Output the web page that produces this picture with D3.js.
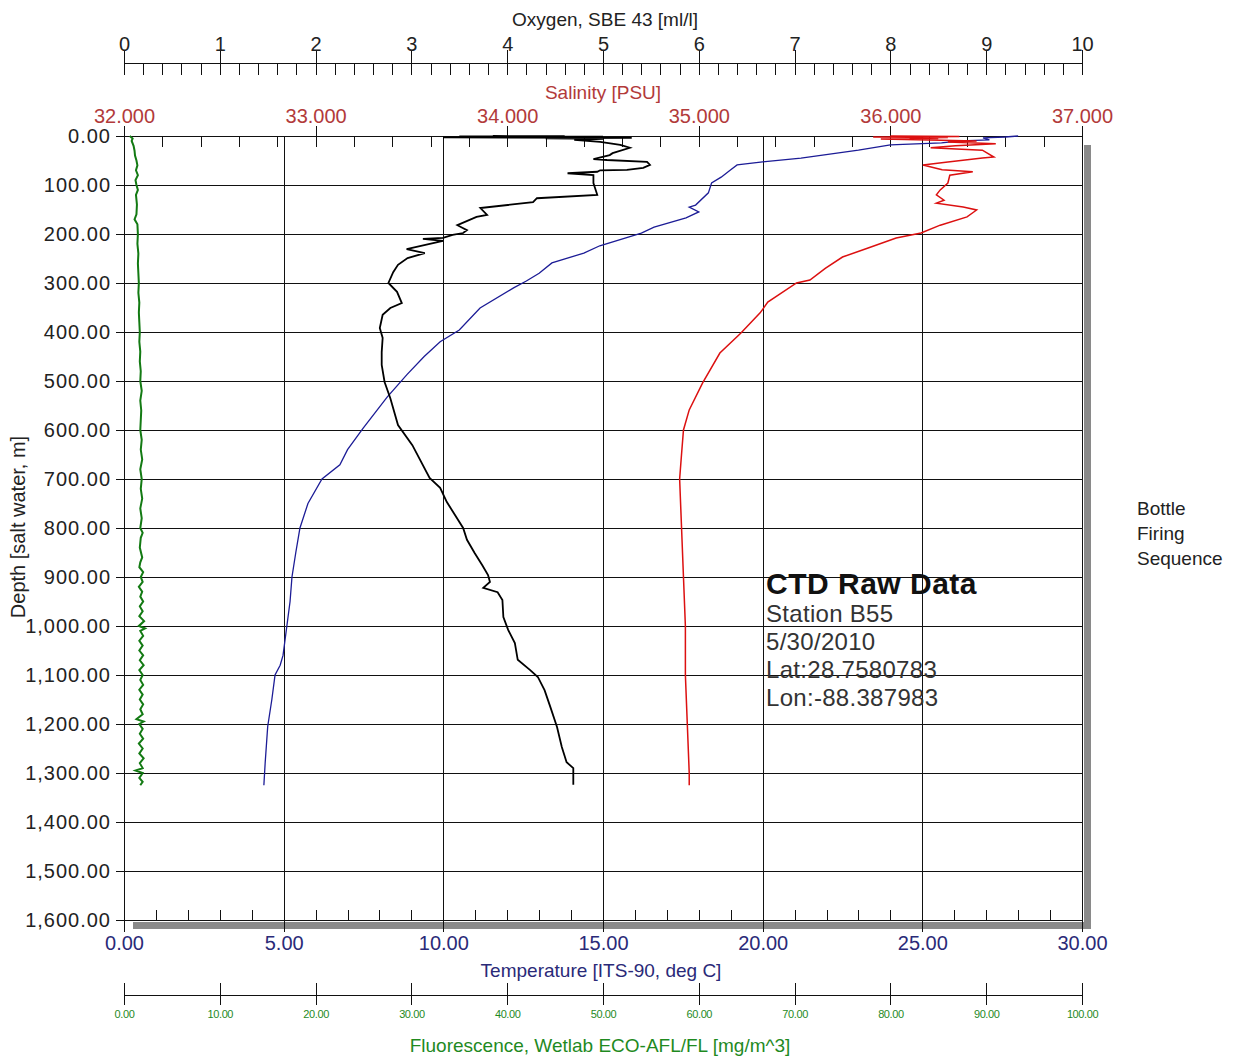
<!DOCTYPE html>
<html>
<head>
<meta charset="utf-8">
<script src="https://cdn.jsdelivr.net/npm/d3@7"></script>
<style>
  body { margin: 0; background: #fff; }
  svg text { font-family: "Liberation Sans", Arial, sans-serif; }
  .axis path, .axis line { stroke: #111; shape-rendering: crispEdges; }
  .grid line { stroke: #111; shape-rendering: crispEdges; }
  .grid path { display: none; }
</style>
</head>
<body>
<div class="chart"></div>
<script>
// CTD raw data profile: [depth m, value]

let temperatureProfile = [
  [0, 28.0], [2, 27.6], [4, 26.9], [8, 27.1], [10, 26.2], [14, 25.6], [18, 24.0],
  [29, 23.0], [45, 21.2], [53, 20.0], [59, 19.2], [69, 19.0], [84, 18.7], [96, 18.4],
  [116, 18.3], [141, 17.9], [145, 17.7], [155, 18.0], [167, 17.6], [186, 16.6],
  [198, 16.2], [224, 14.9], [239, 14.4], [259, 13.4], [280, 13.0], [296, 12.6],
  [310, 12.2], [351, 11.15], [396, 10.5], [420, 9.9], [450, 9.4], [487, 8.86],
  [533, 8.24], [596, 7.49], [640, 7.0], [671, 6.76], [700, 6.2], [750, 5.76],
  [800, 5.51], [850, 5.38], [900, 5.26], [950, 5.2], [1000, 5.1], [1060, 4.98],
  [1080, 4.89], [1100, 4.73], [1150, 4.63], [1205, 4.5], [1280, 4.42], [1325, 4.38]
];

let salinityProfile = [
  [0, 36.0], [1, 36.36], [2, 35.91], [3, 36.3], [4, 36.1], [5, 36.25], [6, 35.95],
  [8, 36.2], [10, 36.45], [12, 36.3], [16, 36.55], [20, 36.34], [24, 36.21],
  [29, 36.48], [43, 36.54], [45, 36.48], [53, 36.3], [59, 36.17], [69, 36.27],
  [73, 36.43], [80, 36.31], [96, 36.3], [110, 36.26], [120, 36.24], [131, 36.28],
  [137, 36.24], [145, 36.38], [151, 36.45], [165, 36.4], [182, 36.26], [198, 36.16],
  [208, 36.03], [229, 35.88], [247, 35.75], [270, 35.66], [294, 35.58], [300, 35.51],
  [339, 35.36], [361, 35.32], [402, 35.22], [443, 35.11], [504, 35.02], [559, 34.95],
  [600, 34.92], [649, 34.91], [700, 34.9], [800, 34.91], [900, 34.92], [1000, 34.93],
  [1100, 34.93], [1200, 34.94], [1300, 34.95], [1325, 34.95]
];

let oxygenProfile = [
  [0, 3.85], [0.5, 4.6], [1, 3.5], [1.5, 5.0], [2, 4.0], [3, 3.33], [4, 5.3],
  [5, 4.4], [6, 5.0], [8, 4.7], [12, 4.97], [18, 5.18], [24, 5.28], [35, 5.1],
  [39, 5.07], [47, 4.9], [49, 5.04], [53, 5.46], [59, 5.49], [65, 5.42], [69, 5.25],
  [70, 4.97], [73, 4.94], [76, 4.63], [80, 4.9], [96, 4.9], [120, 4.94], [127, 4.31],
  [135, 4.27], [147, 3.72], [161, 3.79], [165, 3.68], [182, 3.48], [192, 3.58],
  [198, 3.54], [202, 3.43], [208, 3.33], [210, 3.12], [214, 3.33], [231, 2.95],
  [239, 3.14], [249, 2.96], [263, 2.86], [278, 2.81], [300, 2.76], [318, 2.85],
  [341, 2.9], [351, 2.78], [365, 2.7], [392, 2.67], [412, 2.7], [441, 2.69],
  [467, 2.69], [502, 2.72], [535, 2.78], [590, 2.86], [631, 3.01], [698, 3.19],
  [718, 3.3], [747, 3.37], [800, 3.54], [824, 3.58], [851, 3.66], [876, 3.74],
  [896, 3.8], [910, 3.82], [922, 3.75], [931, 3.9], [947, 3.95], [982, 3.96],
  [1008, 4.01], [1035, 4.08], [1069, 4.11], [1090, 4.24], [1104, 4.32], [1131, 4.39],
  [1165, 4.45], [1206, 4.52], [1247, 4.57], [1278, 4.62], [1290, 4.69], [1324, 4.69]
];

let fluorescenceProfile = [
  [0, 0.6], [5, 0.9], [10, 0.8], [20, 1.0], [30, 1.1], [40, 1.15], [50, 1.3], [60, 1.4],
  [70, 1.25], [80, 1.45], [90, 1.2], [100, 1.3], [110, 1.45], [120, 1.25], [140, 1.35],
  [160, 1.3], [170, 1.1], [180, 1.4], [200, 1.45], [220, 1.4], [240, 1.5], [260, 1.45],
  [280, 1.5], [300, 1.55], [320, 1.5], [340, 1.6], [360, 1.55], [380, 1.6], [400, 1.65],
  [420, 1.6], [440, 1.7], [460, 1.65], [480, 1.75], [500, 1.7], [520, 1.85], [540, 1.7],
  [560, 1.8], [580, 1.75], [600, 1.7], [620, 1.85], [640, 1.75], [660, 1.9], [680, 1.7],
  [700, 1.85], [720, 1.75], [740, 1.9], [760, 1.7], [780, 1.85], [800, 1.7], [810, 1.95],
  [820, 1.75], [840, 1.65], [860, 1.9], [870, 1.7], [880, 1.6], [890, 2.0], [900, 1.75],
  [910, 1.95], [920, 1.55], [930, 1.9], [940, 1.7], [950, 2.0], [960, 1.65], [970, 1.95],
  [980, 1.6], [990, 2.1], [1000, 1.55], [1005, 2.2], [1010, 1.7], [1020, 2.0], [1030, 1.6],
  [1040, 1.95], [1050, 1.6], [1060, 2.0], [1070, 1.65], [1080, 2.05], [1090, 1.6],
  [1100, 1.95], [1110, 1.7], [1120, 2.0], [1130, 1.6], [1140, 1.95], [1150, 1.65],
  [1160, 2.0], [1170, 1.7], [1180, 1.95], [1190, 1.3], [1195, 2.05], [1200, 1.6],
  [1210, 1.95], [1220, 1.65], [1230, 2.0], [1240, 1.55], [1250, 1.95], [1260, 1.6],
  [1270, 2.05], [1280, 1.65], [1290, 1.95], [1295, 1.2], [1300, 1.95], [1310, 1.6],
  [1318, 1.95], [1325, 1.7]
];

let infoLines = ["Station B55", "5/30/2010", "Lat:28.7580783", "Lon:-88.387983"];
let sideLabel = ["Bottle", "Firing", "Sequence"];

let svgWidth = 1239;
let svgHeight = 1058;
let plot = { left: 124, right: 1082, top: 136, bottom: 920 };
let plotW = plot.right - plot.left;
let plotH = plot.bottom - plot.top;

let svg = d3.select(".chart")
  .append("svg")
  .attr("width", svgWidth)
  .attr("height", svgHeight);

// scales
let yScale = d3.scaleLinear().domain([0, 1600]).range([plot.top, plot.bottom]);
let tempScale = d3.scaleLinear().domain([0, 30]).range([plot.left, plot.right]);
let salScale = d3.scaleLinear().domain([32, 37]).range([plot.left, plot.right]);
let oxyScale = d3.scaleLinear().domain([0, 10]).range([plot.left, plot.right]);
let fluScale = d3.scaleLinear().domain([0, 100]).range([plot.left, plot.right]);

// drop shadow of the plot box
svg.append("rect")
  .attr("x", plot.right + 2).attr("y", plot.top + 9)
  .attr("width", 7).attr("height", plotH)
  .attr("fill", "#8a8a8a");
svg.append("rect")
  .attr("x", plot.left + 9).attr("y", plot.bottom + 2)
  .attr("width", plotW).attr("height", 7)
  .attr("fill", "#8a8a8a");
svg.append("rect")
  .attr("x", plot.left).attr("y", plot.top)
  .attr("width", plotW).attr("height", plotH)
  .attr("fill", "#fff");

// grid
svg.append("g").attr("class", "grid")
  .attr("transform", `translate(${plot.left},0)`)
  .call(d3.axisLeft(yScale).tickValues(d3.range(100, 1600, 100)).tickSize(-plotW).tickFormat(""));
svg.append("g").attr("class", "grid")
  .attr("transform", `translate(0,${plot.bottom})`)
  .call(d3.axisBottom(tempScale).tickValues([5, 10, 15, 20, 25]).tickSize(-plotH).tickFormat(""));

svg.append("rect")
  .attr("x", plot.left).attr("y", plot.top)
  .attr("width", plotW).attr("height", plotH)
  .attr("fill", "none").attr("stroke", "#111")
  .attr("shape-rendering", "crispEdges");

// depth axis
let depthAxis = svg.append("g").attr("class", "axis")
  .attr("transform", `translate(${plot.left},0)`)
  .call(d3.axisLeft(yScale).ticks(16).tickSize(8).tickPadding(5).tickFormat(d3.format(",.2f")));
depthAxis.selectAll("text").attr("font-size", 20).attr("letter-spacing", 1).attr("fill", "#222");

svg.append("text")
  .attr("transform", `translate(25, 527) rotate(-90)`)
  .attr("text-anchor", "middle")
  .attr("font-size", 20).attr("fill", "#222")
  .text("Depth [salt water, m]");

// oxygen axis (top)
let oxyY = 63;
svg.append("g").attr("class", "axis")
  .attr("transform", `translate(0,${oxyY})`)
  .call(d3.axisBottom(oxyScale).tickValues(d3.range(0, 10.01, 0.2)).tickSize(12).tickSizeOuter(0).tickFormat(""));
let oxyAxis = svg.append("g").attr("class", "axis")
  .attr("transform", `translate(0,${oxyY})`)
  .call(d3.axisTop(oxyScale).ticks(10).tickSize(13).tickSizeOuter(0).tickPadding(-1).tickFormat(d3.format("d")));
oxyAxis.selectAll("text").attr("font-size", 20).attr("fill", "#222");
svg.append("text")
  .attr("x", 605).attr("y", 26)
  .attr("text-anchor", "middle")
  .attr("font-size", 19).attr("fill", "#222")
  .text("Oxygen, SBE 43 [ml/l]");

// salinity axis (top of plot)
let salColor = "#b23a3a";
svg.append("g").attr("class", "axis")
  .attr("transform", `translate(0,${plot.top})`)
  .call(d3.axisBottom(salScale).tickValues(d3.range(32, 37.01, 0.2)).tickSize(11).tickSizeOuter(0).tickFormat(""));
let salAxis = svg.append("g").attr("class", "axis")
  .attr("transform", `translate(0,${plot.top})`)
  .call(d3.axisTop(salScale).ticks(5).tickSize(10).tickSizeOuter(0).tickPadding(3).tickFormat(d3.format(".3f")));
salAxis.selectAll("text").attr("font-size", 20).attr("fill", salColor);
svg.append("text")
  .attr("x", 603).attr("y", 99)
  .attr("text-anchor", "middle")
  .attr("font-size", 19).attr("fill", salColor)
  .text("Salinity [PSU]");

// temperature axis (bottom of plot)
let tempColor = "#2a2a78";
svg.append("g").attr("class", "axis")
  .attr("transform", `translate(0,${plot.bottom})`)
  .call(d3.axisTop(tempScale).tickValues(d3.range(0, 30, 1)).tickSize(10).tickSizeOuter(0).tickFormat(""));
let tempAxis = svg.append("g").attr("class", "axis")
  .attr("transform", `translate(0,${plot.bottom})`)
  .call(d3.axisBottom(tempScale).ticks(6).tickSize(12).tickSizeOuter(0).tickPadding(4).tickFormat(d3.format(".2f")));
tempAxis.selectAll("text").attr("font-size", 20).attr("fill", tempColor);
svg.append("text")
  .attr("x", 601).attr("y", 977)
  .attr("text-anchor", "middle")
  .attr("font-size", 19).attr("fill", tempColor)
  .text("Temperature [ITS-90, deg C]");

// fluorescence axis
let fluColor = "#1f8a1f";
let fluY = 995;
svg.append("g").attr("class", "axis")
  .attr("transform", `translate(0,${fluY})`)
  .call(d3.axisTop(fluScale).ticks(10).tickSize(12).tickSizeOuter(0).tickFormat(""));
let fluAxis = svg.append("g").attr("class", "axis")
  .attr("transform", `translate(0,${fluY})`)
  .call(d3.axisBottom(fluScale).ticks(10).tickSize(10).tickSizeOuter(0).tickPadding(5).tickFormat(d3.format(".2f")));
fluAxis.selectAll("text").attr("font-size", 11).attr("letter-spacing", -0.4).attr("fill", fluColor);
svg.append("text")
  .attr("x", 600).attr("y", 1052)
  .attr("text-anchor", "middle")
  .attr("font-size", 19).attr("fill", fluColor)
  .text("Fluorescence, Wetlab ECO-AFL/FL [mg/m^3]");

// traces
function trace(data, xScale, color, width) {
  let line = d3.line()
    .x(d => xScale(d[1]))
    .y(d => yScale(d[0]));
  svg.append("path")
    .datum(data)
    .attr("d", line)
    .attr("fill", "none")
    .attr("stroke", color)
    .attr("stroke-width", width)
    .attr("stroke-linejoin", "miter");
}

trace(fluorescenceProfile, fluScale, "#137a13", 2);
trace(temperatureProfile, tempScale, "#1c1c96", 1.3);
trace(oxygenProfile, oxyScale, "#000", 1.8);
trace(salinityProfile, salScale, "#dc1010", 1.5);

// station info
svg.append("text")
  .attr("x", 766).attr("y", 594)
  .attr("font-size", 30).attr("font-weight", "bold").attr("letter-spacing", 0.5).attr("fill", "#111")
  .text("CTD Raw Data");
svg.append("g").selectAll("text")
  .data(infoLines)
  .enter()
  .append("text")
  .attr("x", 766)
  .attr("y", (d, i) => 622 + i * 28)
  .attr("font-size", 24).attr("letter-spacing", 0.3).attr("fill", "#333")
  .text(d => d);

svg.append("g").selectAll("text")
  .data(sideLabel)
  .enter()
  .append("text")
  .attr("x", 1137)
  .attr("y", (d, i) => 515 + i * 25)
  .attr("font-size", 19).attr("fill", "#222")
  .text(d => d);
</script>
</body>
</html>
